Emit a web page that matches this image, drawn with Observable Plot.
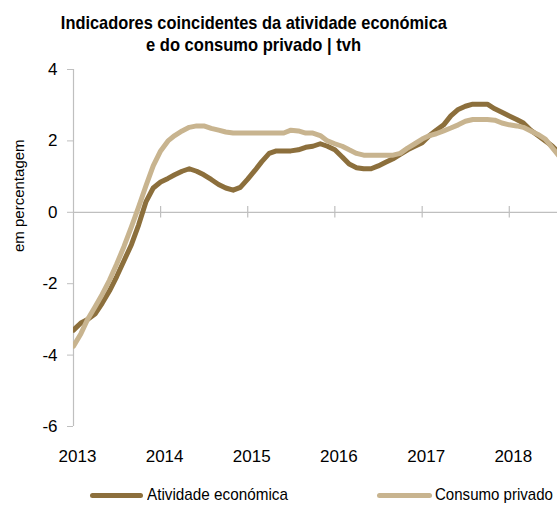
<!DOCTYPE html>
<html>
<head>
<meta charset="utf-8">
<script src="https://cdn.jsdelivr.net/npm/d3@7"></script>
<script src="https://cdn.jsdelivr.net/npm/@observablehq/plot@0.6"></script>
<style>
  html, body { margin: 0; padding: 0; background: #fff; }
  body { width: 557px; height: 507px; overflow: hidden; position: relative; font-family: "Liberation Sans", Arial, sans-serif; color: #000; }
  #title { position: absolute; left: 0; top: 12px; width: 508px; text-align: center; font-family: "Liberation Sans", Arial, sans-serif; font-weight: bold; font-size: 19px; line-height: 22px; }
  #title span { display: inline-block; white-space: nowrap; transform-origin: 50% 50%; }
  #chart { position: absolute; left: 0; top: 60px; }
  .leg { position: absolute; top: 484px; height: 22px; font-family: "Liberation Sans", Arial, sans-serif; font-size: 17px; line-height: 22px; white-space: nowrap; }
  .sw { position: absolute; top: 9px; height: 5px; border-radius: 3px; }
  .lt { position: absolute; top: 0; display: inline-block; transform-origin: 0 50%; }
</style>
</head>
<body>
<div id="title"><span id="t1"></span><br><span id="t2"></span></div>
<div id="chart"></div>
<div class="leg" id="leg1" style="left:90px;"><span class="sw" style="left:0;width:53px;"></span><span class="lt" style="left:57px;"></span></div>
<div class="leg" id="leg2" style="left:377px;"><span class="sw" style="left:0;width:55px;"></span><span class="lt" style="left:58px;"></span></div>
<script>
// ---- data (monthly, from Jan 2013) ----
const titleLines = ["Indicadores coincidentes da atividade económica", "e do consumo privado | tvh"];
const seriesNames = ["Atividade económica", "Consumo privado"];
const seriesColors = ["#8c6f3c", "#c8b48f"];
const startDate = "2013-01-01";
const endDate = "2018-07-22";
const atividade = [
  -3.3, -3.1, -3.0, -2.85, -2.55, -2.2, -1.8, -1.35, -0.9, -0.35, 0.3, 0.68,
  0.85, 0.95, 1.05, 1.15, 1.22, 1.15, 1.05, 0.92, 0.78, 0.68, 0.62, 0.7,
  0.93, 1.18, 1.42, 1.65, 1.72, 1.72, 1.72, 1.75, 1.82, 1.85, 1.92, 1.85,
  1.75, 1.55, 1.35, 1.25, 1.22, 1.22, 1.3, 1.4, 1.5, 1.62, 1.75, 1.85,
  1.95, 2.15, 2.3, 2.45, 2.7, 2.88, 2.97, 3.03, 3.03, 3.03, 2.9, 2.8,
  2.7, 2.6, 2.5, 2.3, 2.15, 2.0, 1.85, 1.65
];
const consumo = [
  -3.75, -3.4, -3.0, -2.65, -2.3, -1.9, -1.45, -0.95, -0.4, 0.15, 0.75, 1.3,
  1.72, 2.0, 2.15, 2.28, 2.38, 2.42, 2.42, 2.35, 2.3, 2.25, 2.22, 2.22,
  2.22, 2.22, 2.22, 2.22, 2.22, 2.22, 2.3, 2.28, 2.22, 2.22, 2.15, 2.0,
  1.92, 1.85, 1.75, 1.65, 1.6, 1.6, 1.6, 1.6, 1.6, 1.65, 1.8, 1.92,
  2.05, 2.15, 2.2, 2.28, 2.36, 2.45, 2.55, 2.6, 2.6, 2.6, 2.58, 2.5,
  2.45, 2.42, 2.38, 2.28, 2.18, 2.05, 1.8, 1.55
];
const yTicks = [4, 2, 0, -2, -4, -6];
const xTickYears = [2013, 2014, 2015, 2016, 2017, 2018];
const yLabel = "em percentagem";

// ---- build ----
const t0 = new Date(startDate);
const toRows = (vals, name) => vals.map((v, i) => ({ date: d3.utcMonth.offset(t0, i), value: v, series: name }));
const rowsA = toRows(atividade, seriesNames[0]);
const rowsC = toRows(consumo, seriesNames[1]);
const tickDates = xTickYears.map(y => new Date(Date.UTC(y, 0, 1)));
const axisGray = "#bfbfbf";

const plot = Plot.plot({
  width: 557,
  height: 410,
  marginLeft: 73,
  marginRight: 0,
  marginTop: 9,
  marginBottom: 44,
  style: { fontFamily: "'Liberation Sans', Arial, sans-serif", fontSize: "17px", color: "#000", background: "#fff" },
  x: { type: "utc", domain: [t0, new Date(endDate)] },
  y: { domain: [-6, 4] },
  marks: [
    Plot.ruleY([0], { stroke: axisGray, strokeWidth: 1.2 }),
    Plot.ruleX(tickDates.slice(1), { y1: -0.16, y2: 0.16, stroke: axisGray, strokeWidth: 1.2 }),
    Plot.ruleX([t0], { stroke: axisGray, strokeWidth: 1.2 }),
    Plot.axisY({ ticks: yTicks, tickFormat: d => String(d), tickSize: 6, tickPadding: 10, stroke: axisGray, fill: "#000", fontSize: 17, label: null }),
    Plot.axisX({ ticks: tickDates, tickFormat: "%Y", tickSize: 0, tickPadding: 23, dx: 4, fill: "#000", fontSize: 17, label: null }),
    Plot.text([yLabel], { frameAnchor: "left", rotate: -90, dx: -54, dy: 4, fontSize: 15, fill: "#000" }),
    Plot.line(rowsA, { x: "date", y: "value", stroke: seriesColors[0], strokeWidth: 5, strokeLinejoin: "round", strokeLinecap: "round", clip: true }),
    Plot.line(rowsC, { x: "date", y: "value", stroke: seriesColors[1], strokeWidth: 5, strokeLinejoin: "round", strokeLinecap: "round", clip: true })
  ]
});
document.getElementById("chart").appendChild(plot);

// condensed look: scale text horizontally to the reference's widths
function fitWidth(el, target) {
  const w = el.getBoundingClientRect().width;
  if (w > 0) el.style.transform = `scaleX(${target / w})`;
}
const t1 = document.getElementById("t1"), t2 = document.getElementById("t2");
t1.textContent = titleLines[0];
t2.textContent = titleLines[1];
fitWidth(t1, 386);
fitWidth(t2, 215);

// legend
const legTargets = [141, 118];
[["leg1", 0], ["leg2", 1]].forEach(([id, i]) => {
  const el = document.getElementById(id);
  el.querySelector(".sw").style.background = seriesColors[i];
  const lt = el.querySelector(".lt");
  lt.textContent = seriesNames[i];
  fitWidth(lt, legTargets[i]);
});
</script>
</body>
</html>
